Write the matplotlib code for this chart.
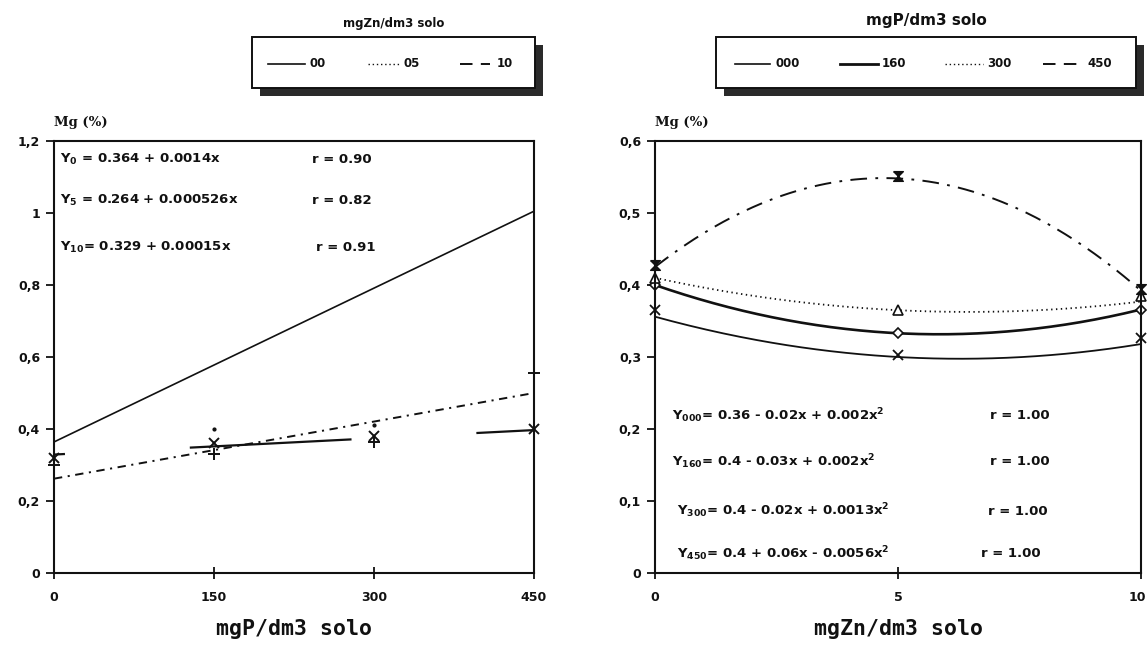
import numpy as np
import matplotlib
matplotlib.use("Agg")
import matplotlib.pyplot as plt
import matplotlib.transforms as mtransforms
from matplotlib.lines import Line2D
from matplotlib.patches import Rectangle

plt.rcParams['font.family'] = ['DejaVu Sans']
plt.rcParams['mathtext.fontset'] = 'custom'
plt.rcParams['mathtext.rm'] = 'DejaVu Sans:bold'
plt.rcParams['mathtext.default'] = 'rm'
plt.rcParams['lines.scale_dashes'] = False

# ---------------- data: left panel (x = mgP/dm3, series = mgZn/dm3) -------------
p_doses = [0, 150, 300, 450]
zn_labels = ['00', '05', '10']
# regression lines (end values)
fit_x_left = [0, 450]
fit_y_zn00 = [0.364, 1.005]
fit_y_zn05 = [0.262, 0.500]
fit_y_zn10 = [0.329, 0.397]
# observed points (markers)
pts_plus = [0.300, 0.330, 0.365, 0.555]
pts_cross = [0.320, 0.360, 0.380, 0.400]
pts_dot_x = [150, 300]
pts_dot = [0.400, 0.412]
left_eqs = [r'Y$_{0}$ = 0.364 + 0.0014x', r'Y$_{5}$ = 0.264 + 0.000526x', r'Y$_{10}$= 0.329 + 0.00015x']
left_r = ['r = 0.90', 'r = 0.82', 'r = 0.91']
left_yticks = [0, 0.2, 0.4, 0.6, 0.8, 1.0, 1.2]
left_yticklabels = ['0', '0,2', '0,4', '0,6', '0,8', '1', '1,2']

# ---------------- data: right panel (x = mgZn/dm3, series = mgP/dm3) -------------
zn_doses = [0, 5, 10]
p_labels = ['000', '160', '300', '450']
curve_p000 = [0.356, 0.300, 0.318]
curve_p160 = [0.400, 0.333, 0.366]
curve_p300 = [0.410, 0.365, 0.377]
curve_p450 = [0.425, 0.548, 0.392]
mark_p000 = [0.365, 0.303, 0.326]
mark_p160 = [0.400, 0.333, 0.365]
mark_p300 = [0.410, 0.365, 0.385]
mark_p450 = [0.428, 0.551, 0.395]
right_eqs = [r'Y$_{000}$= 0.36 - 0.02x + 0.002x$^{2}$',
             r'Y$_{160}$= 0.4 - 0.03x + 0.002x$^{2}$',
             r'Y$_{300}$= 0.4 - 0.02x + 0.0013x$^{2}$',
             r'Y$_{450}$= 0.4 + 0.06x - 0.0056x$^{2}$']
right_r = ['r = 1.00', 'r = 1.00', 'r = 1.00', 'r = 1.00']
right_yticks = [0, 0.1, 0.2, 0.3, 0.4, 0.5, 0.6]
right_yticklabels = ['0', '0,1', '0,2', '0,3', '0,4', '0,5', '0,6']

W, H = 1147, 646
fig = plt.figure(figsize=(W / 100, H / 100), dpi=100)
fig.patch.set_facecolor('white')


def fx(px):
    return px / W


def fy(py):
    return 1 - py / H


ax1 = fig.add_axes([fx(54), fy(573), fx(534 - 54), (573 - 141) / H])
ax2 = fig.add_axes([fx(655), fy(573), fx(1141 - 655), (573 - 141) / H])

ink = '#111111'
style_zn05 = (0, (6, 4, 1.5, 4))
style_zn10 = (108.7, (116.6, 90.0))
style_p450 = (0, (12, 6, 2, 6))

# ---------------- left panel ----------------
ax1.plot(fit_x_left, fit_y_zn00, color=ink, lw=1.2, solid_capstyle='butt')
ax1.plot(fit_x_left, fit_y_zn05, color=ink, lw=1.4, linestyle=style_zn05)
ax1.plot(fit_x_left, fit_y_zn10, color=ink, lw=1.6, linestyle=style_zn10)
ax1.plot(p_doses, pts_plus, linestyle='none', marker='+', ms=9, mew=1.4, color=ink, clip_on=False)
ax1.plot(p_doses, pts_cross, linestyle='none', marker='x', ms=7, mew=1.4, color=ink, clip_on=False)
ax1.plot(pts_dot_x, pts_dot, linestyle='none', marker='.', ms=4, color=ink, clip_on=False)

ax1.set_xlim(0, 450)
ax1.set_ylim(0, 1.2)
ax1.set_xticks(p_doses)
ax1.set_xticklabels([str(v) for v in p_doses])
ax1.set_yticks(left_yticks)
ax1.set_yticklabels(left_yticklabels)

eq_y_left = [1.150, 1.035, 0.905]
for t, r, yv, rx in zip(left_eqs, left_r, eq_y_left, [312, 312, 316]):
    ax1.text(6, yv, t, fontsize=9.5, fontweight='bold', va='center', ha='left', color=ink)
    ax1.text(rx * 450 / 480 - 54 * 450 / 480, yv, r, fontsize=9.5, fontweight='bold',
             va='center', ha='left', color=ink)

# ---------------- right panel ----------------
xs = np.linspace(0, 10, 200)
for ys, lw, ls in [(curve_p000, 1.3, '-'), (curve_p160, 1.9, '-'),
                   (curve_p300, 1.3, (0, (1, 2.5))), (curve_p450, 1.4, style_p450)]:
    coef = np.polyfit(zn_doses, ys, 2)
    ax2.plot(xs, np.polyval(coef, xs), color=ink, lw=lw, linestyle=ls)

hourglass = [(-1, 1), (1, 1), (-1, -1), (1, -1), (-1, 1)]
ax2.plot(zn_doses, mark_p000, linestyle='none', marker='x', ms=7, mew=1.3, color=ink, clip_on=False)
ax2.plot(zn_doses, mark_p160, linestyle='none', marker='D', ms=5, mew=1.2, mfc='white', color=ink, clip_on=False)
ax2.plot(zn_doses, mark_p300, linestyle='none', marker='^', ms=7, mew=1.2, mfc='white', color=ink, clip_on=False)
ax2.plot(zn_doses, mark_p450, linestyle='none', marker=hourglass, ms=7, color=ink, clip_on=False)

ax2.set_xlim(0, 10)
ax2.set_ylim(0, 0.6)
ax2.set_xticks(zn_doses)
ax2.set_xticklabels([str(v) for v in zn_doses])
ax2.set_yticks(right_yticks)
ax2.set_yticklabels(right_yticklabels)

eq_y_right = [0.219, 0.155, 0.086, 0.027]
eq_x_right = [0.35, 0.35, 0.45, 0.45]
r_x_right = [6.9, 6.9, 6.85, 6.7]
for t, r, yv, xv, rx in zip(right_eqs, right_r, eq_y_right, eq_x_right, r_x_right):
    ax2.text(xv, yv, t, fontsize=9.5, fontweight='bold', va='center', ha='left', color=ink)
    ax2.text(rx, yv, r, fontsize=9.5, fontweight='bold', va='center', ha='left', color=ink)

# ---------------- common axis styling ----------------
for ax, xlabel in [(ax1, 'mgP/dm3 solo'), (ax2, 'mgZn/dm3 solo')]:
    for s in ax.spines.values():
        s.set_linewidth(1.5)
        s.set_color(ink)
    ax.tick_params(axis='y', direction='out', length=6, width=1.3, pad=4,
                   labelsize=9, colors=ink)
    ax.tick_params(axis='x', direction='inout', length=8, width=1.3, pad=9,
                   labelsize=9, colors=ink)
    for lab in ax.get_xticklabels() + ax.get_yticklabels():
        lab.set_fontweight('bold')
    ax.set_xlabel(xlabel, fontsize=15.5, fontweight='bold', family='DejaVu Sans Mono',
                  labelpad=11, color=ink)
    ax.text(0.0, 1.042, 'Mg (%)', transform=ax.transAxes, fontsize=9.5, fontweight='bold',
            ha='left', va='center', color=ink, family='DejaVu Serif')

# keep the last right-panel tick label inside the picture (it sits at the edge)
last = ax2.get_xticklabels()[-1]
last.set_horizontalalignment('right')
last.set_transform(last.get_transform() + mtransforms.ScaledTranslation(5 / 100, 0, fig.dpi_scale_trans))

# ---------------- legends (drawn as boxes with shadows) ----------------
def legend_box(x0, x1, y0, y1, title, title_size, title_y, entries):
    sh = 8
    fig.add_artist(Rectangle((fx(x0 + sh), fy(y1 + sh)), fx(x1 - x0), (y1 - y0) / H,
                             transform=fig.transFigure, facecolor='#2a2a2a',
                             edgecolor='none', zorder=1))
    fig.add_artist(Rectangle((fx(x0), fy(y1)), fx(x1 - x0), (y1 - y0) / H,
                             transform=fig.transFigure, facecolor='white',
                             edgecolor=ink, lw=1.4, zorder=2))
    fig.text(fx((x0 + x1) / 2), fy(title_y), title, fontsize=title_size, fontweight='bold',
             ha='center', va='center', color=ink)
    yc = (y0 + y1) / 2 + 1
    for (lx0, lx1, tx, label, ls, lw) in entries:
        fig.add_artist(Line2D([fx(lx0), fx(lx1)], [fy(yc), fy(yc)], transform=fig.transFigure,
                              color=ink, lw=lw, linestyle=ls, zorder=3))
        fig.text(fx(tx), fy(yc), label, fontsize=8.5, fontweight='bold', ha='left',
                 va='center', color=ink, zorder=3)


legend_box(252, 535, 37, 88, 'mgZn/dm3 solo', 8.5, 24,
           [(268, 305, 310, zn_labels[0], '-', 1.2),
            (368, 400, 403, zn_labels[1], (0, (1, 2)), 1.0),
            (460, 490, 497, zn_labels[2], (0, (9, 6)), 1.4)])
legend_box(716, 1136, 37, 88, 'mgP/dm3 solo', 11, 20,
           [(735, 770, 775, p_labels[0], '-', 1.2),
            (840, 878, 882, p_labels[1], '-', 2.0),
            (945, 983, 987, p_labels[2], (0, (1, 2)), 1.0),
            (1043, 1083, 1087, p_labels[3], (0, (9, 6)), 1.4)])

fig.savefig('out.png', dpi=100, facecolor='white')
